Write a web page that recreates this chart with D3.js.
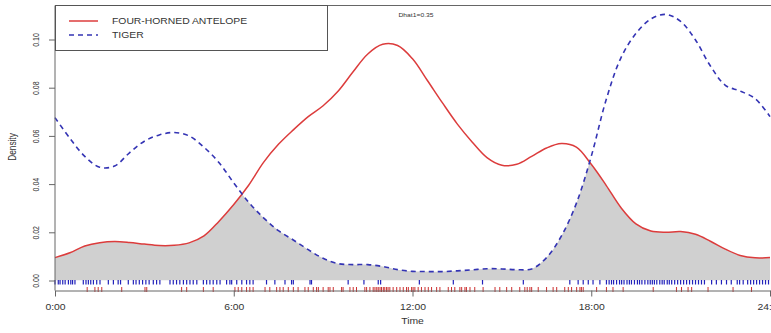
<!DOCTYPE html>
<html>
<head>
<meta charset="utf-8">
<script src="https://cdn.jsdelivr.net/npm/d3@7"></script>
<style>
  body { margin: 0; background: #fff; }
  text { font-family: "Liberation Sans", Arial, sans-serif; fill: #333; }
</style>
</head>
<body>
<div id="chart"></div>
<script>
// density curves, every half hour
const hours = [0,0.5,1,1.5,2,2.5,3,3.5,4,4.5,5,5.5,6,6.5,7,7.5,8,8.5,9,9.5,10,10.5,11,11.5,12,
  12.5,13,13.5,14,14.5,15,15.5,16,16.5,17,17.5,18,18.5,19,19.5,20,20.5,21,21.5,22,22.5,23,23.5,24];

const antelope = [0.0095,0.0115,0.0143,0.0157,0.0162,0.0158,0.0151,0.0145,0.0146,0.0156,0.0185,0.0245,
  0.0315,0.0395,0.0490,0.0565,0.0625,0.0680,0.0725,0.0785,0.0865,0.0940,0.0980,0.0975,0.0920,
  0.0830,0.0738,0.0650,0.0575,0.0510,0.0478,0.0482,0.0515,0.0550,0.0568,0.0553,0.0482,0.0395,
  0.0302,0.0235,0.0205,0.0200,0.0203,0.0192,0.0163,0.0130,0.0104,0.0094,0.0095];

const tiger = [0.0676,0.0590,0.0515,0.0470,0.0475,0.0530,0.0578,0.0604,0.0614,0.0600,0.0553,0.0490,
  0.0405,0.0325,0.0260,0.0207,0.0168,0.0128,0.0092,0.0070,0.0066,0.0066,0.0058,0.0045,0.0038,
  0.0037,0.0037,0.0040,0.0044,0.0049,0.0048,0.0045,0.0048,0.0095,0.0185,0.0320,0.0515,0.0750,
  0.0925,0.1025,0.1085,0.1104,0.1075,0.0998,0.0890,0.0810,0.0786,0.0755,0.0680];

// observation times (rug marks)
const tigerTimes = [0.0,0.11,0.17,0.26,0.34,0.45,0.53,0.59,0.67,0.95,1.04,1.12,1.2,1.29,1.4,1.51,
  1.79,1.96,2.12,2.2,2.46,2.63,2.72,2.83,2.94,3.05,3.16,3.3,3.41,3.52,3.86,3.97,4.08,4.19,4.31,
  4.42,4.53,4.64,4.76,4.98,5.09,5.2,5.31,5.43,5.54,5.76,5.87,5.93,6.1,6.27,6.43,6.54,6.65,7.1,
  7.38,7.72,7.94,8.0,8.56,8.61,9.84,10.37,10.85,10.93,12.23,13.37,14.35,15.72,17.28,17.56,17.73,
  17.9,18.06,18.29,18.51,18.6,18.68,18.75,18.85,18.95,19.02,19.1,19.2,19.28,19.35,19.45,19.55,
  19.62,19.7,19.8,19.9,19.98,20.05,20.12,20.2,20.3,20.38,20.45,20.55,20.62,20.7,20.8,20.9,21.0,
  21.1,21.2,21.3,21.4,21.5,21.6,21.7,21.8,22.04,22.2,22.37,22.54,22.7,22.9,22.98,23.1,23.25,
  23.35,23.45,23.55,23.65,23.75,23.85,23.95];

const antelopeTimes = [1.08,1.34,1.45,1.57,2.24,3.02,3.08,4.25,4.42,4.98,5.31,6.04,6.15,6.27,6.43,
  6.54,6.65,7.05,7.21,7.44,7.55,7.66,7.83,8.0,8.16,8.39,8.5,8.67,8.78,8.84,9.0,9.17,9.23,9.34,
  9.62,9.67,9.9,10.01,10.12,10.4,10.46,10.57,10.68,10.74,10.8,10.85,10.91,10.96,11.02,11.07,
  11.13,11.18,11.24,11.35,11.47,11.58,11.69,11.8,11.86,11.97,12.02,12.08,12.19,12.3,12.42,12.53,
  12.64,12.81,12.92,13.2,13.31,13.42,13.59,13.65,13.76,13.81,13.93,14.09,14.37,14.77,14.93,
  15.16,15.33,15.6,15.77,15.85,15.94,16.0,16.22,16.5,16.72,16.84,17.11,17.23,17.34,17.51,17.62,
  17.67,17.73,18.18,18.51,18.73,19.07,20.08,20.86,21.03,21.25,21.37,21.92,22.76,23.38];

const xTicks = [0, 6, 12, 18, 24];
const yTicks = [0, 0.02, 0.04, 0.06, 0.08, 0.10];
const seriesNames = ["FOUR-HORNED ANTELOPE", "TIGER"];
const overlapLabel = "Dhat1=0.35";

const W = 771, H = 333;
const red = "#dc3c3c", blue = "#3434b4";
const sx = 1.25; // the picture is stretched sideways

const svg = d3.select("#chart").append("svg")
  .attr("width", W).attr("height", H);

const x = d3.scaleLinear().domain([0, 24]).range([55, 770]);
const y = d3.scaleLinear().domain([0, 0.10]).range([280.5, 39.5]);

const ptsA = hours.map((h, i) => [h, antelope[i]]);
const ptsT = hours.map((h, i) => [h, tiger[i]]);

const line = d3.line().x(d => x(d[0])).y(d => y(d[1])).curve(d3.curveCatmullRom);
const area = d3.area().x(d => x(d[0])).y0(y(0)).y1(d => y(d[1])).curve(d3.curveCatmullRom);

// overlap = area under antelope clipped by area under tiger
svg.append("clipPath").attr("id", "underTiger")
  .append("path").attr("d", area(ptsT));
svg.append("path")
  .attr("d", area(ptsA))
  .attr("clip-path", "url(#underTiger)")
  .attr("fill", "#d0d0d0");

svg.append("path").attr("d", line(ptsA))
  .attr("fill", "none").attr("stroke", red).attr("stroke-width", 1.5);
svg.append("path").attr("d", line(ptsT))
  .attr("fill", "none").attr("stroke", blue).attr("stroke-width", 1.6)
  .attr("stroke-dasharray", "5,4");

// rugs
svg.append("g").selectAll("line").data(tigerTimes).join("line")
  .attr("x1", d => x(d)).attr("x2", d => x(d))
  .attr("y1", 280).attr("y2", 284.5)
  .attr("stroke", "#2222bb").attr("stroke-width", 1.2);
svg.append("g").selectAll("line").data(antelopeTimes).join("line")
  .attr("x1", d => x(d)).attr("x2", d => x(d))
  .attr("y1", 287).attr("y2", 292)
  .attr("stroke", "#cc3030").attr("stroke-width", 1);

// box (top + left)
svg.append("path").attr("d", "M55,290.5V5.5H771")
  .attr("fill", "none").attr("stroke", "#666").attr("stroke-width", 1);

// x axis
const xAxis = svg.append("g").attr("transform", "translate(0,290.5)")
  .call(d3.axisBottom(x).tickValues(xTicks).tickFormat(d => d + ":00")
    .tickSize(6).tickSizeOuter(0));
xAxis.select(".domain").attr("stroke", "#666");
xAxis.selectAll(".tick line").attr("stroke", "#666");
xAxis.selectAll(".tick text")
  .attr("y", 0).attr("dy", null)
  .attr("transform", `translate(0,19) scale(${sx},1)`)
  .attr("font-size", 8.3).attr("fill", "#333");

// y axis
const yAxis = svg.append("g").attr("transform", "translate(55,0)")
  .call(d3.axisLeft(y).tickValues(yTicks).tickFormat(d3.format(".2f"))
    .tickSize(6).tickSizeOuter(0));
yAxis.select(".domain").remove();
yAxis.selectAll(".tick line").attr("stroke", "#666");
yAxis.selectAll(".tick text")
  .attr("x", 0).attr("dy", null).attr("text-anchor", "middle")
  .attr("transform", `translate(-16,0) scale(${sx},1) rotate(-90)`)
  .attr("font-size", 7).attr("fill", "#333");

// axis titles
svg.append("text")
  .attr("transform", `translate(${x(12)},324) scale(${sx},1)`)
  .attr("text-anchor", "middle").attr("font-size", 8.3).text("Time");
svg.append("text")
  .attr("transform", `translate(16,147) scale(${sx},1) rotate(-90)`)
  .attr("text-anchor", "middle").attr("font-size", 8.3).text("Density");

// annotation
svg.append("text")
  .attr("transform", `translate(416,17) scale(${sx},1)`)
  .attr("text-anchor", "middle").attr("font-size", 5.4).text(overlapLabel);

// legend
const lg = svg.append("g");
lg.append("rect").attr("x", 55.5).attr("y", 5.5).attr("width", 272).attr("height", 45)
  .attr("fill", "#fff").attr("stroke", "#555");
const styles = [{ c: red, dash: null, w: 1.5 }, { c: blue, dash: "5,4", w: 1.6 }];
seriesNames.forEach((name, i) => {
  const yy = 21 + i * 14;
  lg.append("line").attr("x1", 69).attr("x2", 98).attr("y1", yy).attr("y2", yy)
    .attr("stroke", styles[i].c).attr("stroke-width", styles[i].w)
    .attr("stroke-dasharray", styles[i].dash);
  lg.append("text")
    .attr("transform", `translate(112,${yy + 3}) scale(${sx},1)`)
    .attr("font-size", 8.3).text(name);
});
</script>
</body>
</html>
